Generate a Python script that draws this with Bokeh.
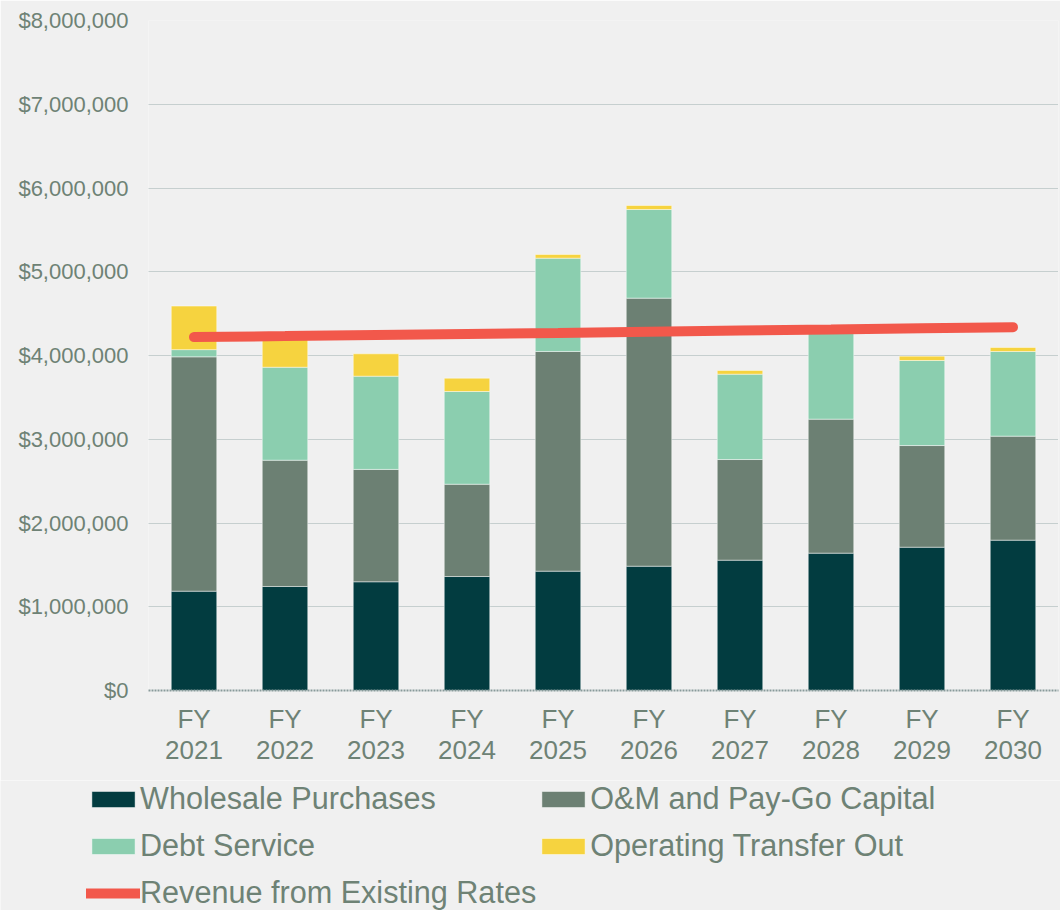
from bokeh.plotting import figure
from bokeh.layouts import column, row
from bokeh.models import (ColumnDataSource, Range1d, FactorRange, FixedTicker,
                          NumeralTickFormatter, Legend, LegendItem)
from bokeh.embed import file_html
from bokeh.resources import INLINE

# ---- data ----
years = ["FY\n2021", "FY\n2022", "FY\n2023", "FY\n2024", "FY\n2025",
         "FY\n2026", "FY\n2027", "FY\n2028", "FY\n2029", "FY\n2030"]
wholesale = [1186000, 1242000, 1298000, 1361000, 1425000,
             1484000, 1556000, 1640000, 1711000, 1795000]
om_paygo = [2798000, 1508000, 1342000, 1102000, 2623000,
            3201000, 1202000, 1600000, 1214000, 1242000]
debt_service = [86000, 1110000, 1113000, 1107000, 1114000,
                1058000, 1019000, 1060000, 1015000, 1011000]
transfer_out = [520000, 390000, 267000, 159000, 44000,
                48000, 44000, 30000, 52000, 48000]
revenue = [4220000, 4232000, 4245000, 4258000, 4270000,
           4285000, 4298000, 4310000, 4325000, 4338000]
y_ticks = [0, 1000000, 2000000, 3000000, 4000000, 5000000, 6000000, 7000000, 8000000]

series = ["wholesale", "om", "debt", "transfer"]
names = ["Wholesale Purchases", "O&M and Pay-Go Capital", "Debt Service", "Operating Transfer Out"]
line_name = "Revenue from Existing Rates"
colors = ["#023C40", "#6C8073", "#8BCEAF", "#F6D33F"]
line_color = "#F2584B"
text_color = "#6E8275"
bg = "#F0F0F0"
font = "Liberation Sans"

src = ColumnDataSource(dict(years=years, wholesale=wholesale, om=om_paygo,
                            debt=debt_service, transfer=transfer_out, revenue=revenue))

p = figure(x_range=FactorRange(*years, range_padding=0),
           y_range=Range1d(0, 8000000),
           width=1060, height=780, output_backend="svg", toolbar_location=None,
           min_border_left=148, min_border_right=2, min_border_top=20, min_border_bottom=90)
p.background_fill_color = bg
p.border_fill_color = bg
p.outline_line_color = None

bar_style = dict(line_color="white", line_alpha=0.45, line_width=1)
bars = p.vbar_stack(series, x="years", width=0.5, source=src, color=colors, **bar_style)
ln = p.line(x="years", y="revenue", source=src, line_color=line_color,
            line_width=10, line_cap="round")

# y axis
p.yaxis.ticker = FixedTicker(ticks=y_ticks)
p.yaxis.formatter = NumeralTickFormatter(format="$0,0")
p.yaxis.axis_line_color = None
p.yaxis.major_tick_line_color = None
p.yaxis.minor_tick_line_color = None
p.yaxis.major_tick_out = 0
p.yaxis.major_tick_in = 0
p.yaxis.major_label_standoff = 20
p.yaxis.major_label_text_font = font
p.yaxis.major_label_text_font_size = "22px"
p.yaxis.major_label_text_color = text_color

# x axis
xa = p.xaxis[0]
xa.axis_line_color = "#889A9A"
xa.axis_line_width = 2
xa.axis_line_dash = "2 1"
xa.major_tick_line_color = None
xa.minor_tick_line_color = None
xa.major_tick_out = 0
xa.major_tick_in = 0
xa.major_label_standoff = 13
xa.major_label_text_font = font
xa.major_label_text_font_size = "26px"
xa.major_label_text_color = text_color
xa.major_label_text_line_height = 1.05

p.xgrid.grid_line_color = None
p.ygrid.grid_line_color = "#9DAEAE"
p.ygrid.grid_line_dash = "1 1"
p.ygrid.grid_line_width = 1

# ---- legend panel: a second figure whose own copies of the series sit out of view (below) ----
lf = figure(width=1060, height=130, output_backend="svg", toolbar_location=None,
            x_range=p.x_range, y_range=Range1d(10000000, 20000000),
            x_axis_location=None, y_axis_location=None,
            min_border_left=0, min_border_right=0, min_border_top=0, min_border_bottom=0)
lf.background_fill_color = bg
lf.border_fill_color = bg
lf.outline_line_color = None
lf.grid.grid_line_color = None

leg_bars = lf.vbar_stack(series, x="years", width=0.5, source=src, color=colors, **bar_style)
leg_ln = lf.line(x="years", y="revenue", source=src, line_color=line_color,
                 line_width=10, line_cap="round")

items = [LegendItem(label=names[i], renderers=[leg_bars[i]]) for i in range(4)]
items.append(LegendItem(label=line_name, renderers=[leg_ln]))
legend = Legend(items=items, ncols=2, orientation="horizontal",
                location=(86, -6),
                background_fill_alpha=0, border_line_color=None,
                label_text_font=font, label_text_font_size="30.6px",
                label_text_color=text_color,
                glyph_width=54, glyph_height=20, label_standoff=0,
                label_height=47, spacing=0, padding=0, margin=0)
lf.add_layout(legend, "center")

layout = column(p, row(lf, spacing=0), spacing=0)
open("out.html", "w").write(file_html(layout, INLINE))
